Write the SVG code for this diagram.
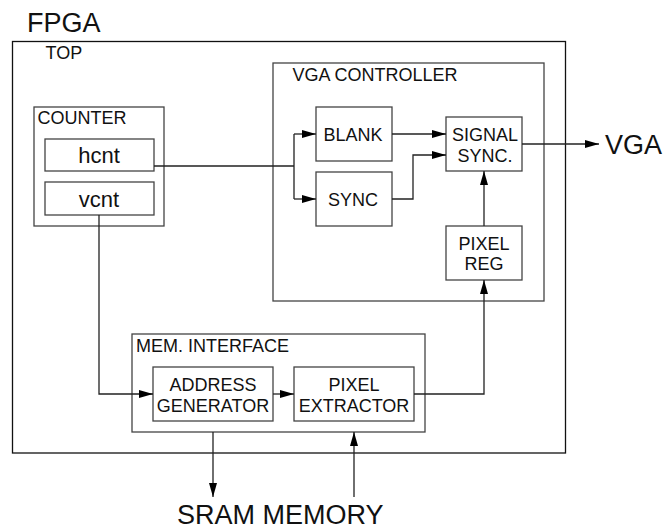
<svg xmlns="http://www.w3.org/2000/svg" width="664" height="528" viewBox="0 0 664 528">
<style>
.box{fill:#fff;stroke:#444;stroke-width:1.3}
.outer{fill:#fff;stroke:#111;stroke-width:1.3}
.lbl{font-family:"Liberation Sans",Arial,sans-serif;font-size:18px;fill:#111}
.mid{text-anchor:middle}
.big{font-family:"Liberation Sans",Arial,sans-serif;font-size:27px;fill:#111}
.cnt{font-family:"Liberation Sans",Arial,sans-serif;font-size:22px;fill:#111;text-anchor:middle}
.wire{fill:none;stroke:#222;stroke-width:1.3}
</style>
<defs>
<marker id="arr" markerUnits="userSpaceOnUse" markerWidth="14" markerHeight="8" refX="14" refY="4" orient="auto">
<path d="M0,0 L14,4 L0,8 z" fill="#000"/>
</marker>
</defs>
<g id="fpga">
<text class="big" x="27" y="31.5">FPGA</text>
<rect class="outer" x="12.5" y="41.5" width="553" height="411.5"/>
<text class="lbl" x="45.5" y="59">TOP</text>
</g>
<g id="vga-controller">
<rect class="box" x="273" y="63" width="271" height="238"/>
<text class="lbl" x="292.5" y="80.5">VGA CONTROLLER</text>
</g>
<g id="counter">
<rect class="box" x="34" y="107" width="130" height="119"/>
<text class="lbl" x="37.5" y="124">COUNTER</text>
</g>
<g id="hcnt">
<rect class="box" x="45" y="139" width="109" height="32"/>
<text class="cnt" x="99" y="163">hcnt</text>
</g>
<g id="vcnt">
<rect class="box" x="45" y="182" width="109" height="33"/>
<text class="cnt" x="99" y="206.5">vcnt</text>
</g>
<g id="blank">
<rect class="box" x="316" y="107" width="76" height="54"/>
<text class="lbl mid" x="353" y="140.5">BLANK</text>
</g>
<g id="sync">
<rect class="box" x="316" y="172" width="76" height="54"/>
<text class="lbl mid" x="353" y="205.5">SYNC</text>
</g>
<g id="signal-sync">
<rect class="box" x="446" y="117" width="76" height="54"/>
<text class="lbl mid" x="485" y="141">SIGNAL</text>
<text class="lbl mid" x="485" y="161.5">SYNC.</text>
</g>
<g id="pixel-reg">
<rect class="box" x="446" y="226" width="76" height="54"/>
<text class="lbl mid" x="484" y="249.5">PIXEL</text>
<text class="lbl mid" x="484" y="270">REG</text>
</g>
<g id="mem-interface">
<rect class="box" x="132" y="334" width="293" height="98"/>
<text class="lbl" x="136" y="351.5">MEM. INTERFACE</text>
</g>
<g id="address-generator">
<rect class="box" x="153" y="367" width="120" height="54"/>
<text class="lbl mid" x="213" y="391">ADDRESS</text>
<text class="lbl mid" x="213" y="411.5">GENERATOR</text>
</g>
<g id="pixel-extractor">
<rect class="box" x="294" y="367" width="120" height="54"/>
<text class="lbl mid" x="354" y="391">PIXEL</text>
<text class="lbl mid" x="354" y="411.5">EXTRACTOR</text>
</g>
<g id="vga-label"><text class="big" x="605" y="154">VGA</text></g>
<g id="sram-label"><text class="big" x="177" y="523.5">SRAM MEMORY</text></g>
<g id="connectors">
<path class="wire" d="M154,166 H294 M294,134 V199"/>
<path class="wire" d="M294,134 H316" marker-end="url(#arr)"/>
<path class="wire" d="M294,199 H316" marker-end="url(#arr)"/>
<path class="wire" d="M392,134 H446" marker-end="url(#arr)"/>
<path class="wire" d="M392,199 H413 V155 H446" marker-end="url(#arr)"/>
<path class="wire" d="M484,226 V171" marker-end="url(#arr)"/>
<path class="wire" d="M522,144 H599" marker-end="url(#arr)"/>
<path class="wire" d="M99,215 V394 H153" marker-end="url(#arr)"/>
<path class="wire" d="M273,394 H294" marker-end="url(#arr)"/>
<path class="wire" d="M414,394 H484 V280" marker-end="url(#arr)"/>
<path class="wire" d="M213,432 V497" marker-end="url(#arr)"/>
<path class="wire" d="M354,497 V432" marker-end="url(#arr)"/>
</g>
</svg>
